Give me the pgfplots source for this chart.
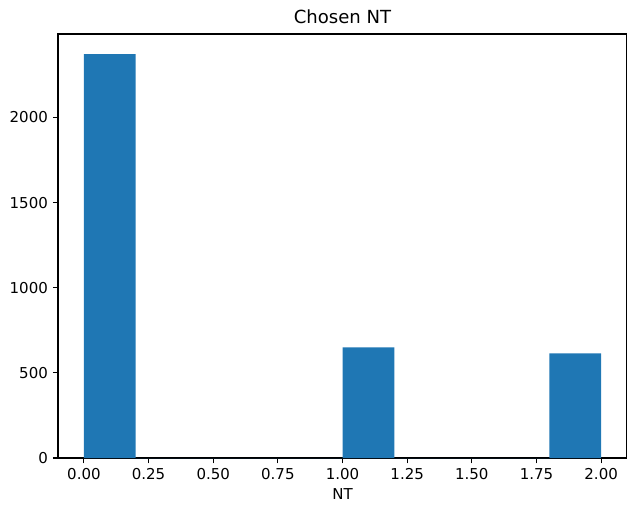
\documentclass[border=0pt]{standalone}
\usepackage{pgfplots}
\pgfplotsset{compat=1.18}
\usepackage{fontspec}
\setmainfont{DejaVu Sans}
\definecolor{mplblue}{HTML}{1F77B4}
\begin{document}
\begin{tikzpicture}
\begin{axis}[
  scale only axis,
  width=409.7pt, height=305.3pt,
  xmin=-0.1, xmax=2.1,
  ymin=0, ymax=2490,
  xtick={0,0.25,0.5,0.75,1,1.25,1.5,1.75,2},
  ytick={0,500,1000,1500,2000},
  xticklabel style={/pgf/number format/.cd,fixed,fixed zerofill,precision=2},
  yticklabel style={/pgf/number format/.cd,fixed,1000 sep={}},
  /pgf/number format/assume math mode=true,
  tick label style={font=\fontsize{10.8}{13}\selectfont},
  label style={font=\fontsize{10.8}{13}\selectfont},
  title style={font=\fontsize{13}{15}\selectfont, yshift=-2.5pt},
  title={Chosen NT},
  xlabel={NT},
  tick align=outside,
  xtick pos=bottom, ytick pos=left,
  major tick length=3.8pt,
  axis line style={line width=0.8pt},
  every tick/.style={line width=0.8pt, black},
  xlabel style={yshift=0pt},
]
\addplot[ybar interval, fill=mplblue, draw=none] coordinates {
(0,2372) (0.2,0) (0.4,0) (0.6,0) (0.8,0) (1.0,650) (1.2,0) (1.4,0) (1.6,0) (1.8,614) (2.0,0)
};
\end{axis}
\pgfresetboundingbox
\path ([shift={(-41.8pt,-37.4pt)}]current axis.south west) rectangle ([shift={(0pt,24.5pt)}]current axis.north east);
\end{tikzpicture}
\end{document}
